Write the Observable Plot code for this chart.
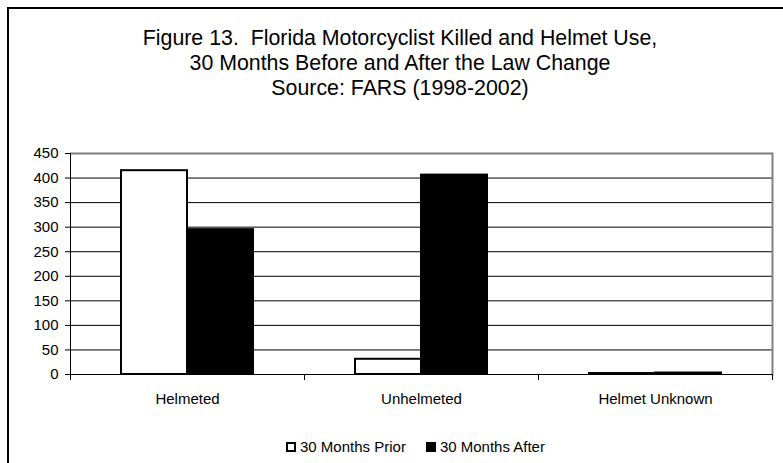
<!DOCTYPE html>
<html><head><meta charset="utf-8">
<script src="https://cdn.jsdelivr.net/npm/d3@7"></script>
<script src="https://cdn.jsdelivr.net/npm/@observablehq/plot@0.6"></script>
<style>
html,body{margin:0;padding:0;background:#fff;overflow:hidden}
#wrap{position:relative;width:783px;height:463px;overflow:hidden;font-family:"Liberation Sans",Arial,sans-serif;color:#000}
#border{position:absolute;left:7px;top:7px;width:820px;height:520px;border:2px solid #000;box-sizing:border-box}
#title{position:absolute;left:0;top:26px;width:800px;text-align:center;font-size:21.33px;line-height:25px;white-space:pre}
#chart{position:absolute;left:0;top:0}
#legend{position:absolute;left:286px;top:439px;display:flex;align-items:center;font-size:15px;line-height:15px;white-space:pre}
.sw{width:10px;height:10px;box-sizing:border-box;border:2px solid #000;margin-right:4px}
.item{display:flex;align-items:center;margin-right:20px}
</style>
</head><body>
<div id="wrap">
  <div id="border"></div>
  <div id="title"></div>
  <div id="chart"></div>
  <div id="legend"></div>
</div>
<script>
const titleLines = ["Figure 13.  Florida Motorcyclist Killed and Helmet Use,", "30 Months Before and After the Law Change", "Source: FARS (1998-2002)"];
const categories = ["Helmeted", "Unhelmeted", "Helmet Unknown"];
const series = ["30 Months Prior", "30 Months After"];
const priorValues = [415, 31, 2];
const afterValues = [295, 406, 3];
const yTicks = [0, 50, 100, 150, 200, 250, 300, 350, 400, 450];
const seriesColors = ["#ffffff", "#000000"];

document.getElementById("title").textContent = titleLines.join("\n");

const data = categories.flatMap((c, i) => [
  {category: c, series: series[0], value: priorValues[i]},
  {category: c, series: series[1], value: afterValues[i]}
]);

const chart = Plot.plot({
  width: 783,
  height: 420,
  marginTop: 153,
  marginBottom: 46,
  marginLeft: 69,
  marginRight: 11,
  style: {fontFamily: "Liberation Sans, Arial, sans-serif", fontSize: "15px", color: "#000", background: "transparent"},
  fx: {domain: categories, padding: 0, label: null},
  x: {domain: series, paddingInner: 0, paddingOuter: 0.75, axis: null},
  y: {domain: [0, 450], label: null},
  color: {domain: series, range: seriesColors},
  marks: [
    Plot.ruleY(yTicks.filter(d => d > 0 && d < 450), {stroke: "#000", strokeWidth: 1}),
    Plot.ruleY([450], {stroke: "#808080", strokeWidth: 2}),
    Plot.frame({anchor: "right", facetAnchor: "right", stroke: "#808080", strokeWidth: 2}),
    Plot.barY(data, {fx: "category", x: "series", y: "value", fill: "series", stroke: "#000", strokeWidth: 2}),
    Plot.ruleY([0], {stroke: "#000", strokeWidth: 1}),
    Plot.frame({anchor: "left", facetAnchor: "left", stroke: "#000"}),
    Plot.frame({anchor: "left", insetTop: 221, insetBottom: -5, stroke: "#000"}),
    Plot.frame({anchor: "right", insetTop: 221, insetBottom: -5, stroke: "#000"}),
    Plot.axisY({ticks: yTicks, tickSize: 5, tickPadding: 7, label: null, fontSize: 15}),
    Plot.axisFx({anchor: "bottom", tickSize: 0, tickPadding: 19, label: null, fontSize: 15})
  ]
});
document.getElementById("chart").appendChild(chart);

const legend = document.getElementById("legend");
series.forEach((s, i) => {
  const item = document.createElement("div");
  item.className = "item";
  const sw = document.createElement("div");
  sw.className = "sw";
  sw.style.background = seriesColors[i];
  const t = document.createElement("span");
  t.textContent = s;
  item.appendChild(sw);
  item.appendChild(t);
  legend.appendChild(item);
});
</script>
</body></html>
